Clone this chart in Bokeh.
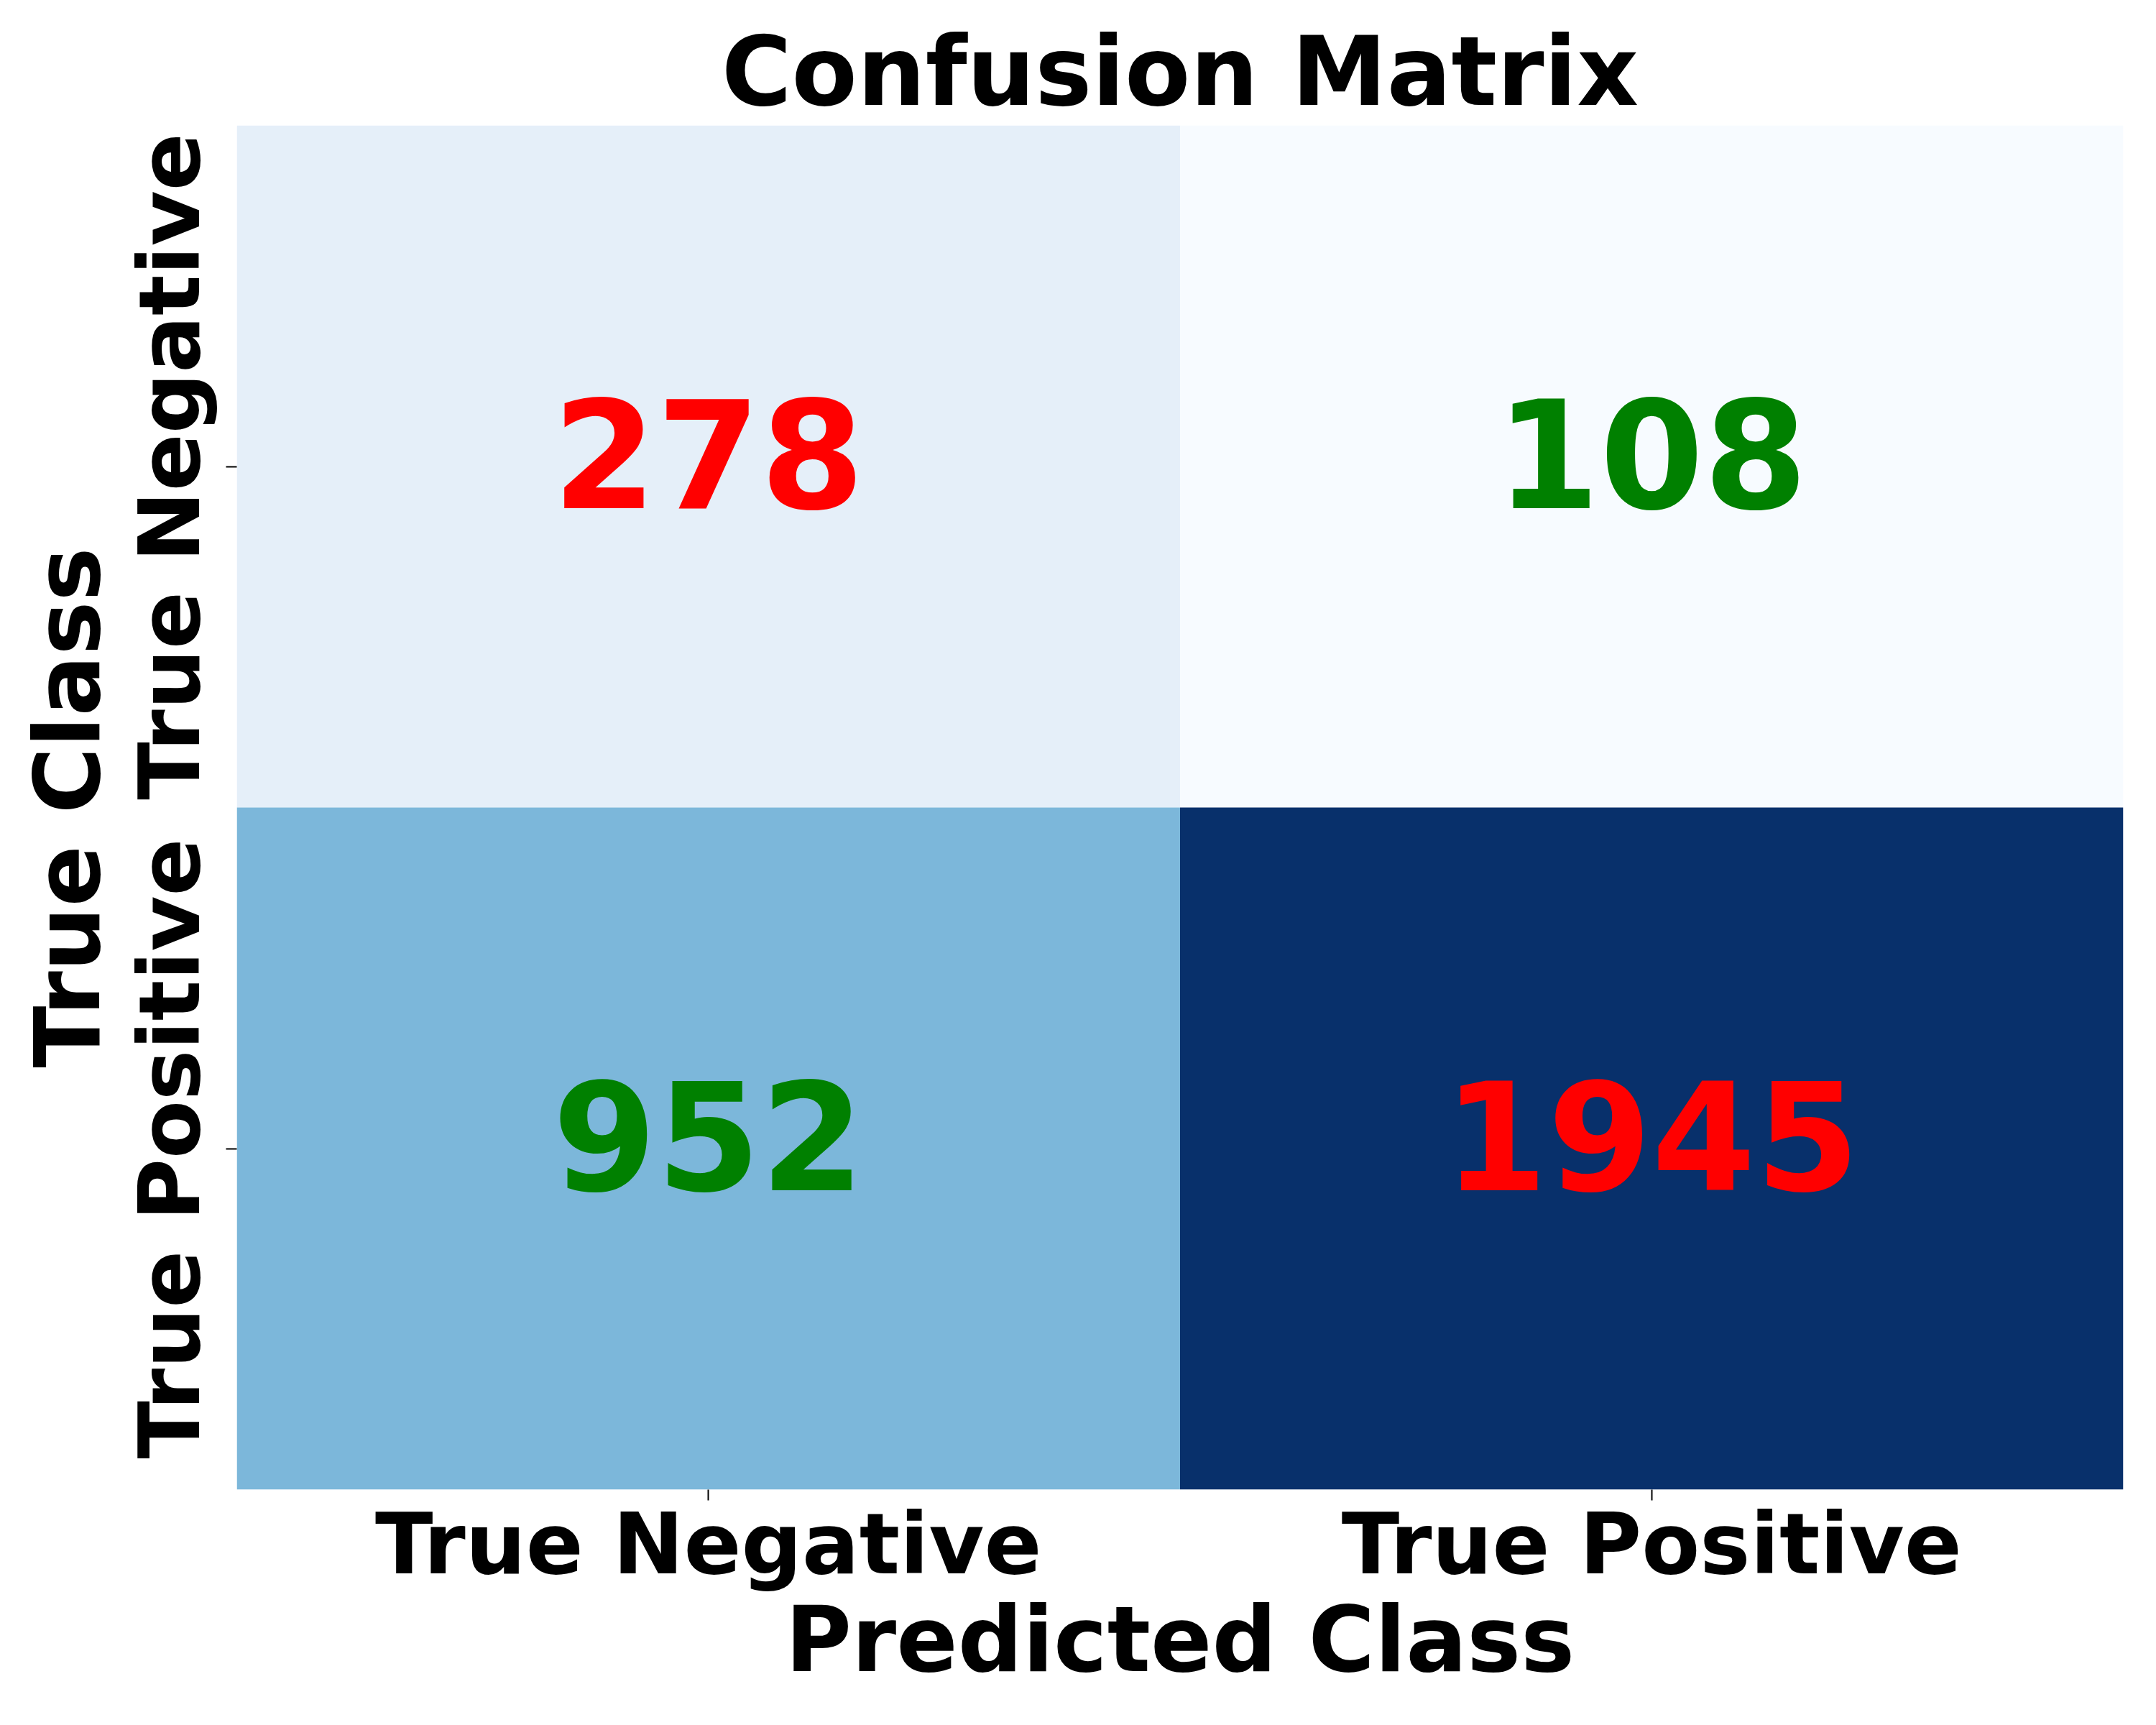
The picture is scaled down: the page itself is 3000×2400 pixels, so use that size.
from bokeh.plotting import figure
from bokeh.models import ColumnDataSource, LinearColorMapper, FactorRange
from bokeh.transform import transform
from bokeh.core.properties import value
from bokeh.embed import file_html
from bokeh.resources import INLINE

# ---- data ----
pred_classes = ["True Negative", "True Positive", "True Negative", "True Positive"]
true_classes = ["True Negative", "True Negative", "True Positive", "True Positive"]
counts = [278, 108, 952, 1945]
text_colors = ["#ff0000", "#008000", "#008000", "#ff0000"]
x_factors = ["True Negative", "True Positive"]
y_factors = ["True Positive", "True Negative"]

# Matplotlib "Blues" anchors, interpolated to 256 steps
anchors = ["#f7fbff", "#deebf7", "#c6dbef", "#9ecae1", "#6baed6",
           "#4292c6", "#2171b5", "#08519c", "#08306b"]
def _rgb(h):
    return tuple(int(h[i:i + 2], 16) for i in (1, 3, 5))
palette = []
for i in range(256):
    t = i / 255 * (len(anchors) - 1)
    k = min(int(t), len(anchors) - 2)
    f = t - k
    a, b = _rgb(anchors[k]), _rgb(anchors[k + 1])
    palette.append("#%02x%02x%02x" % tuple(round(a[j] + (b[j] - a[j]) * f) for j in range(3)))

src = ColumnDataSource(dict(x=pred_classes, y=true_classes, v=counts,
                            lbl=[str(c) for c in counts], tc=text_colors))
mapper = LinearColorMapper(palette=palette, low=min(counts), high=max(counts))

FONT = "DejaVu Sans"

p = figure(width=2984, height=2384, output_backend="svg", toolbar_location=None,
           x_range=FactorRange(*x_factors), y_range=FactorRange(*y_factors),
           min_border_left=329, min_border_right=30, min_border_top=174,
           min_border_bottom=312)

p.rect(x="x", y="y", width=1, height=1, source=src,
       fill_color=transform("v", mapper), line_color=None)
p.text(x="x", y="y", text="lbl", source=src, text_color="tc",
       text_align="center", text_baseline="middle", y_offset=-19,
       text_font=value(FONT), text_font_style="bold", text_font_size="208px")

p.title.text = "Confusion Matrix"
p.title.align = "center"
p.title.text_font = FONT
p.title.text_font_size = "133px"
p.title.text_font_style = "bold"
p.title.text_color = "black"
p.title.standoff = -5

p.xaxis.axis_label = "Predicted Class"
p.yaxis.axis_label = "True Class"
for ax in (p.xaxis[0], p.yaxis[0]):
    ax.axis_line_color = None
    ax.major_tick_in = 0
    ax.major_tick_out = 15
    ax.major_tick_line_width = 2
    ax.major_tick_line_color = "black"
    ax.minor_tick_line_color = None
    ax.major_label_text_font = FONT
    ax.major_label_text_font_size = "118px"
    ax.major_label_text_font_style = "bold"
    ax.major_label_text_color = "black"
    ax.axis_label_text_font = FONT
    ax.axis_label_text_font_size = "126px"
    ax.axis_label_text_font_style = "bold"
    ax.axis_label_text_color = "black"
p.xaxis.major_label_standoff = -9
p.xaxis.axis_label_standoff = -12
p.yaxis.major_label_standoff = 10
p.yaxis.axis_label_standoff = -4
p.yaxis.major_label_orientation = "vertical"
p.xgrid.grid_line_color = None
p.ygrid.grid_line_color = None
p.outline_line_color = None
p.background_fill_color = "white"
p.border_fill_color = "white"

open("out.html", "w").write(file_html(p, INLINE))
